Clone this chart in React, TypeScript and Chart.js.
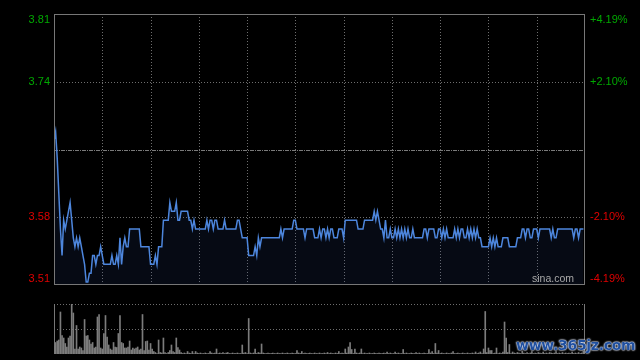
import React, { useEffect, useRef } from "react";
import { Chart, registerables } from "chart.js";
Chart.register(...registerables);

const prevClose = 3.66;
const rangePct = 4.19;
const tickPcts = [4.19, 2.1, -2.1, -4.19];
const priceTickLabels = ["3.81", "3.74", "3.58", "3.51"];
const pctTickLabels = ["+4.19%", "+2.10%", "-2.10%", "-4.19%"];
const totalMinutes = 330;
const gridMinutes = [30, 60, 90, 120, 150, 180, 210, 240, 270, 300];
const sourceLabel = "sina.com";
const watermark = "www.365jz.com";

const prices = [
  3.67, 3.68, 3.65, 3.61, 3.57, 3.54, 3.58, 3.57, 3.58, 3.59,
  3.60, 3.58, 3.56, 3.55, 3.56, 3.55, 3.56, 3.55, 3.54, 3.53,
  3.51, 3.51, 3.52, 3.52, 3.54, 3.54, 3.53, 3.54, 3.54, 3.55,
  3.54, 3.53, 3.53, 3.53, 3.53, 3.53, 3.54, 3.53, 3.53, 3.54,
  3.53, 3.56, 3.53, 3.55, 3.56, 3.55, 3.55, 3.57, 3.57, 3.57,
  3.57, 3.57, 3.57, 3.57, 3.55, 3.55, 3.55, 3.55, 3.55, 3.55,
  3.53, 3.53, 3.53, 3.54, 3.53, 3.55, 3.55, 3.55, 3.58, 3.58,
  3.58, 3.58, 3.60, 3.59, 3.59, 3.59, 3.60, 3.58, 3.58, 3.59,
  3.59, 3.59, 3.59, 3.59, 3.58, 3.58, 3.57, 3.58, 3.57, 3.57,
  3.57, 3.57, 3.57, 3.57, 3.57, 3.58, 3.57, 3.58, 3.58, 3.57,
  3.58, 3.58, 3.57, 3.57, 3.57, 3.57, 3.58, 3.57, 3.57, 3.57,
  3.57, 3.57, 3.57, 3.57, 3.58, 3.58, 3.57, 3.56, 3.56, 3.56,
  3.56, 3.54, 3.54, 3.54, 3.54, 3.55, 3.54, 3.56, 3.55, 3.56,
  3.56, 3.56, 3.56, 3.56, 3.56, 3.56, 3.56, 3.56, 3.56, 3.56,
  3.56, 3.57, 3.56, 3.57, 3.57, 3.57, 3.57, 3.57, 3.57, 3.58,
  3.58, 3.57, 3.57, 3.57, 3.57, 3.57, 3.56, 3.57, 3.57, 3.57,
  3.57, 3.57, 3.56, 3.56, 3.56, 3.57, 3.56, 3.57, 3.57, 3.56,
  3.57, 3.56, 3.57, 3.57, 3.56, 3.56, 3.56, 3.57, 3.57, 3.57,
  3.56, 3.58, 3.58, 3.58, 3.58, 3.58, 3.58, 3.58, 3.58, 3.57,
  3.57, 3.57, 3.57, 3.58, 3.58, 3.58, 3.58, 3.58, 3.58, 3.59,
  3.58, 3.59, 3.58, 3.57, 3.57, 3.56, 3.58, 3.56, 3.56, 3.57,
  3.56, 3.56, 3.57, 3.56, 3.57, 3.56, 3.57, 3.56, 3.57, 3.56,
  3.57, 3.56, 3.56, 3.57, 3.56, 3.56, 3.56, 3.56, 3.56, 3.56,
  3.57, 3.57, 3.56, 3.57, 3.57, 3.57, 3.57, 3.56, 3.56, 3.57,
  3.57, 3.56, 3.57, 3.56, 3.57, 3.56, 3.56, 3.56, 3.56, 3.57,
  3.56, 3.57, 3.56, 3.57, 3.57, 3.56, 3.56, 3.57, 3.56, 3.57,
  3.56, 3.57, 3.56, 3.57, 3.56, 3.56, 3.55, 3.55, 3.55, 3.55,
  3.55, 3.56, 3.55, 3.56, 3.55, 3.56, 3.55, 3.55, 3.55, 3.56,
  3.56, 3.56, 3.56, 3.55, 3.55, 3.55, 3.55, 3.55, 3.56, 3.56,
  3.56, 3.57, 3.57, 3.56, 3.57, 3.57, 3.56, 3.56, 3.57, 3.57,
  3.57, 3.56, 3.57, 3.57, 3.57, 3.57, 3.57, 3.57, 3.57, 3.56,
  3.57, 3.56, 3.56, 3.57, 3.57, 3.57, 3.57, 3.57, 3.57, 3.57,
  3.57, 3.57, 3.57, 3.56, 3.57, 3.57, 3.56, 3.57, 3.57, 3.57,
];

const volumes = [
  15, 23, 26, 28, 84, 37, 32, 21, 14, 32,
  36, 100, 82, 10, 57, 10, 14, 12, 7, 69,
  36, 37, 28, 20, 23, 12, 14, 74, 79, 12,
  10, 41, 77, 34, 18, 10, 8, 23, 14, 13,
  41, 77, 23, 21, 12, 12, 14, 26, 8, 12,
  10, 12, 14, 8, 10, 79, 7, 25, 26, 8,
  21, 10, 5, 3, 1, 28, 3, 2, 32, 3,
  1, 3, 7, 18, 5, 3, 32, 13, 8, 3,
  1, 2, 1, 5, 2, 1, 5, 1, 5, 2,
  1, 2, 1, 1, 2, 1, 1, 5, 2, 1,
  2, 10, 1, 2, 1, 3, 1, 2, 3, 1,
  1, 2, 1, 1, 2, 1, 1, 18, 2, 3,
  1, 71, 2, 1, 2, 10, 1, 3, 2, 20,
  2, 1, 1, 2, 1, 1, 2, 1, 1, 2,
  1, 1, 2, 1, 1, 2, 1, 1, 2, 1,
  1, 7, 2, 1, 5, 1, 2, 1, 1, 2,
  1, 1, 2, 1, 1, 2, 1, 1, 2, 1,
  3, 1, 2, 1, 1, 2, 1, 5, 1, 2,
  1, 10, 2, 14, 23, 9, 1, 10, 2, 1,
  2, 10, 1, 2, 1, 1, 2, 1, 1, 2,
  1, 1, 2, 1, 1, 2, 1, 4, 1, 2,
  1, 1, 4, 1, 2, 1, 1, 9, 1, 2,
  1, 1, 2, 1, 1, 3, 1, 2, 1, 1,
  2, 1, 1, 9, 2, 5, 1, 21, 2, 7,
  1, 2, 1, 1, 2, 1, 1, 2, 5, 1,
  1, 2, 1, 1, 2, 1, 1, 2, 1, 1,
  2, 1, 4, 1, 2, 4, 1, 10, 85, 3,
  12, 7, 7, 1, 2, 12, 1, 2, 1, 4,
  64, 32, 3, 19, 1, 4, 2, 1, 3, 2,
  1, 6, 2, 1, 3, 1, 2, 5, 1, 2,
  1, 3, 2, 1, 4, 1, 2, 1, 3, 2,
  1, 2, 5, 1, 2, 1, 3, 1, 2, 1,
  2, 1, 4, 1, 2, 1, 3, 1, 2, 6,
];
const volumeMax = 100;

const FONT = "'Liberation Sans', Arial, sans-serif";
const GRID = "#6e6e6e";
const FRAME = "#777777";
const UP = "#00a800";
const DOWN = "#e00000";

const priceGridPlugin = {
  id: "priceGrid",
  beforeDatasetsDraw(chart: any) {
    const { ctx, chartArea: a, scales } = chart;
    const xs = scales.x;
    const ys = scales.y;
    ctx.save();
    ctx.lineWidth = 1;
    ctx.strokeStyle = GRID;
    ctx.setLineDash([1, 2]);
    gridMinutes.forEach((m) => {
      const x = Math.round(xs.getPixelForValue(m)) + 0.5;
      ctx.beginPath();
      ctx.moveTo(x, a.top);
      ctx.lineTo(x, a.bottom);
      ctx.stroke();
    });
    [2.1, -2.1].forEach((p) => {
      const y = Math.round(ys.getPixelForValue(prevClose * (1 + p / 100))) + 0.5;
      ctx.beginPath();
      ctx.moveTo(a.left, y);
      ctx.lineTo(a.right, y);
      ctx.stroke();
    });
    ctx.setLineDash([4, 1, 1, 1]);
    ctx.strokeStyle = "#7a7a7a";
    const yc = Math.round(ys.getPixelForValue(prevClose)) + 0.5;
    ctx.beginPath();
    ctx.moveTo(a.left, yc);
    ctx.lineTo(a.right, yc);
    ctx.stroke();
    ctx.restore();
  },
  afterDraw(chart: any) {
    const { ctx, chartArea: a, scales } = chart;
    const ys = scales.y;
    ctx.save();
    ctx.strokeStyle = FRAME;
    ctx.lineWidth = 1;
    ctx.setLineDash([]);
    ctx.strokeRect(Math.round(a.left) + 0.5, Math.round(a.top) + 0.5, Math.round(a.right - a.left) - 1, Math.round(a.bottom - a.top) - 1);
    ctx.font = `11px ${FONT}`;
    ctx.textBaseline = "middle";
    tickPcts.forEach((p, i) => {
      let y = ys.getPixelForValue(prevClose * (1 + p / 100));
      if (i === 0) y = a.top + 6;
      if (i === tickPcts.length - 1) y = a.bottom - 6;
      ctx.fillStyle = p > 0 ? UP : DOWN;
      ctx.textAlign = "right";
      ctx.fillText(priceTickLabels[i], a.left - 4, y);
      ctx.textAlign = "left";
      ctx.fillText(pctTickLabels[i], a.right + 5, y);
    });
    ctx.fillStyle = "#a8a8a8";
    ctx.font = `10.5px ${FONT}`;
    ctx.textAlign = "right";
    ctx.fillText(sourceLabel, a.right - 11, a.bottom - 6);
    ctx.restore();
  },
};

const volumeGridPlugin = {
  id: "volumeGrid",
  beforeDatasetsDraw(chart: any) {
    const { ctx, chartArea: a, scales } = chart;
    const ys = scales.y;
    ctx.save();
    ctx.lineWidth = 1;
    ctx.strokeStyle = GRID;
    ctx.setLineDash([1, 2]);
    [volumeMax, volumeMax / 2].forEach((v) => {
      const y = Math.round(ys.getPixelForValue(v)) + 0.5;
      ctx.beginPath();
      ctx.moveTo(a.left, y);
      ctx.lineTo(a.right, y);
      ctx.stroke();
    });
    ctx.setLineDash([]);
    ctx.strokeStyle = FRAME;
    [a.left, a.right - 1].forEach((xv) => {
      const x = Math.round(xv) + 0.5;
      ctx.beginPath();
      ctx.moveTo(x, a.top);
      ctx.lineTo(x, a.bottom);
      ctx.stroke();
    });
    ctx.restore();
  },
};

export default function App() {
  const priceRef = useRef<HTMLCanvasElement | null>(null);
  const volRef = useRef<HTMLCanvasElement | null>(null);

  useEffect(() => {
    const lo = prevClose * (1 - rangePct / 100);
    const hi = prevClose * (1 + rangePct / 100);
    const priceChart = new Chart(priceRef.current as HTMLCanvasElement, {
      type: "line",
      data: {
        datasets: [
          {
            data: prices.map((p, i) => ({ x: i, y: p })),
            borderColor: "#4d86dd",
            borderWidth: 1.5,
            pointRadius: 0,
            tension: 0,
            fill: "start",
            backgroundColor: "rgba(40,70,140,0.14)",
          },
        ],
      },
      options: {
        animation: false,
        responsive: false,
        maintainAspectRatio: false,
        layout: { padding: { left: 54, right: 55, top: 14, bottom: 5 } },
        scales: {
          x: { type: "linear", min: 0, max: totalMinutes, display: false },
          y: { type: "linear", min: lo, max: hi, display: false },
        },
        plugins: { legend: { display: false }, tooltip: { enabled: false } },
      },
      plugins: [priceGridPlugin],
    } as any);

    const volChart = new Chart(volRef.current as HTMLCanvasElement, {
      type: "bar",
      data: {
        datasets: [
          {
            data: volumes.map((v, i) => ({ x: i, y: v })),
            backgroundColor: "#7c7c7c",
            barThickness: 1,
            borderWidth: 0,
          },
        ],
      },
      options: {
        animation: false,
        responsive: false,
        maintainAspectRatio: false,
        layout: { padding: { left: 54, right: 55, top: 14, bottom: 6 } },
        scales: {
          x: { type: "linear", min: 0, max: totalMinutes, offset: false, display: false },
          y: { type: "linear", min: 0, max: volumeMax, display: false },
        },
        plugins: { legend: { display: false }, tooltip: { enabled: false } },
      },
      plugins: [volumeGridPlugin],
    } as any);

    return () => {
      priceChart.destroy();
      volChart.destroy();
    };
  }, []);

  return (
    <div style={{ position: "fixed", left: 0, top: 0, width: 640, height: 360, background: "#000", overflow: "hidden" }}>
      <canvas ref={priceRef} width={640} height={290} style={{ position: "absolute", left: 0, top: 0, width: 640, height: 290 }} />
      <canvas ref={volRef} width={640} height={70} style={{ position: "absolute", left: 0, top: 290, width: 640, height: 70 }} />
      <div
        style={{
          position: "absolute",
          left: 516,
          top: 337,
          width: 120,
          fontFamily: "'DejaVu Sans', sans-serif",
          fontWeight: "bold",
          fontSize: 14,
          letterSpacing: -0.3,
          color: "#1f4f9f",
          textShadow: "0 0 2px #dfe8ff, 0 0 2px #dfe8ff, 0 0 1px #ffffff",
          whiteSpace: "nowrap",
        }}
      >
        {watermark}
      </div>
    </div>
  );
}
